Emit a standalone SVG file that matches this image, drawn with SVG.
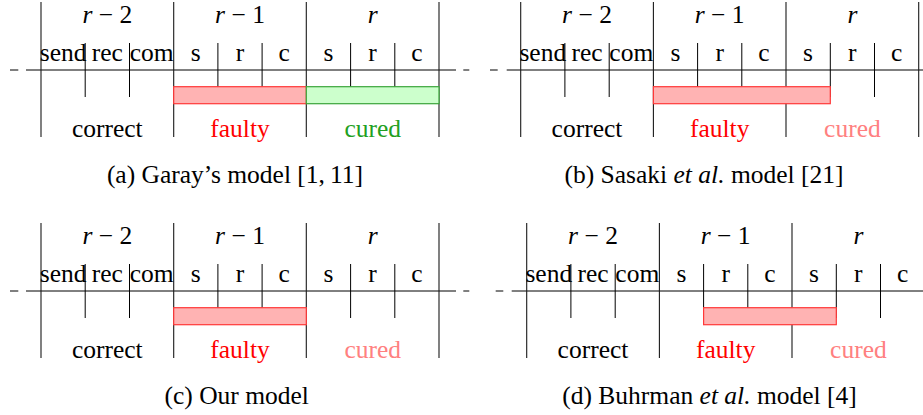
<svg xmlns="http://www.w3.org/2000/svg" width="923" height="415" viewBox="0 0 923 415" font-family="Liberation Serif">
<style>
svg text, svg tspan {font-family:'Liberation Serif',serif !important}
text{font-size:25.5px;text-anchor:middle;fill:#000}
.ln{stroke:#000;stroke-width:1;fill:none}
.maj{stroke:#1a1a1a;stroke-width:1.1;fill:none}
.red{fill:#ffb3b3;stroke:#ff3838;stroke-width:1.2}
.grn{fill:#ccffcc;stroke:#3aa53a;stroke-width:1.2}
.tf{fill:#ff0000}
.tc{fill:#ff8080}
.tg{fill:#22a022}
</style>
<defs>
<g id="frame">
<path class="maj" d="M0,-68V67M132.7,-68V67M265.3,-68V67M398,-68V67"/>
<path class="ln" d="M44.2,-27V27M88.5,-27V27M176.9,-27V27M221.1,-27V27M309.6,-27V27M353.8,-27V27"/>
</g>
<g id="labels">
<text x="66.3" y="-47"><tspan font-style="italic">r</tspan> − 2</text>
<text x="199" y="-47"><tspan font-style="italic">r</tspan> − 1</text>
<text x="331.7" y="-47" font-style="italic">r</text>
<text x="22.1" y="-9">send</text>
<text x="66.3" y="-9">rec</text>
<text x="110.6" y="-9">com</text>
<text x="154.8" y="-9">s</text>
<text x="199" y="-9">r</text>
<text x="243.2" y="-9">c</text>
<text x="287.4" y="-9">s</text>
<text x="331.6" y="-9">r</text>
<text x="375.9" y="-9">c</text>
<text x="66.3" y="67">correct</text>
<text x="199" y="67" class="tf">faulty</text>
</g>
</defs>
<g id="connectors">
<path class="ln" d="M10,70H18.3M26,70H456"/>
<path class="ln" d="M463.3,70H469.3M490,70H497.7M506.7,70H923"/>
<path class="ln" d="M10,291H18.3M26,291H456"/>
<path class="ln" d="M463.3,291H469.3M495.7,291H503.3M511.7,291H923"/>
</g>
<g id="panel-a" transform="translate(41,70)">
<use href="#frame"/>
<rect class="red" x="132.7" y="16.7" width="132.6" height="17"/>
<rect class="grn" x="265.3" y="16.7" width="132.7" height="17"/>
<use href="#labels"/>
<text x="331.7" y="67" class="tg">cured</text>
<text x="194" y="113">(a) Garay’s model [1,&#8201;11]</text>
</g>
<g id="panel-b" transform="translate(520.7,70)">
<use href="#frame"/>
<rect class="red" x="132.7" y="16.7" width="176.9" height="17"/>
<use href="#labels"/>
<text x="331.7" y="67" class="tc">cured</text>
<text x="183.3" y="113">(b) Sasaki <tspan font-style="italic">et al.</tspan> model [21]</text>
</g>
<g id="panel-c" transform="translate(41,291)">
<use href="#frame"/>
<rect class="red" x="132.7" y="16.7" width="132.6" height="17"/>
<use href="#labels"/>
<text x="331.7" y="67" class="tc">cured</text>
<text x="195.7" y="113">(c) Our model</text>
</g>
<g id="panel-d" transform="translate(526.7,291)">
<use href="#frame"/>
<rect class="red" x="176.9" y="16.7" width="132.7" height="17"/>
<use href="#labels"/>
<text x="331.7" y="67" class="tc">cured</text>
<text x="182.8" y="113">(d) Buhrman <tspan font-style="italic">et al.</tspan> model [4]</text>
</g>
</svg>
